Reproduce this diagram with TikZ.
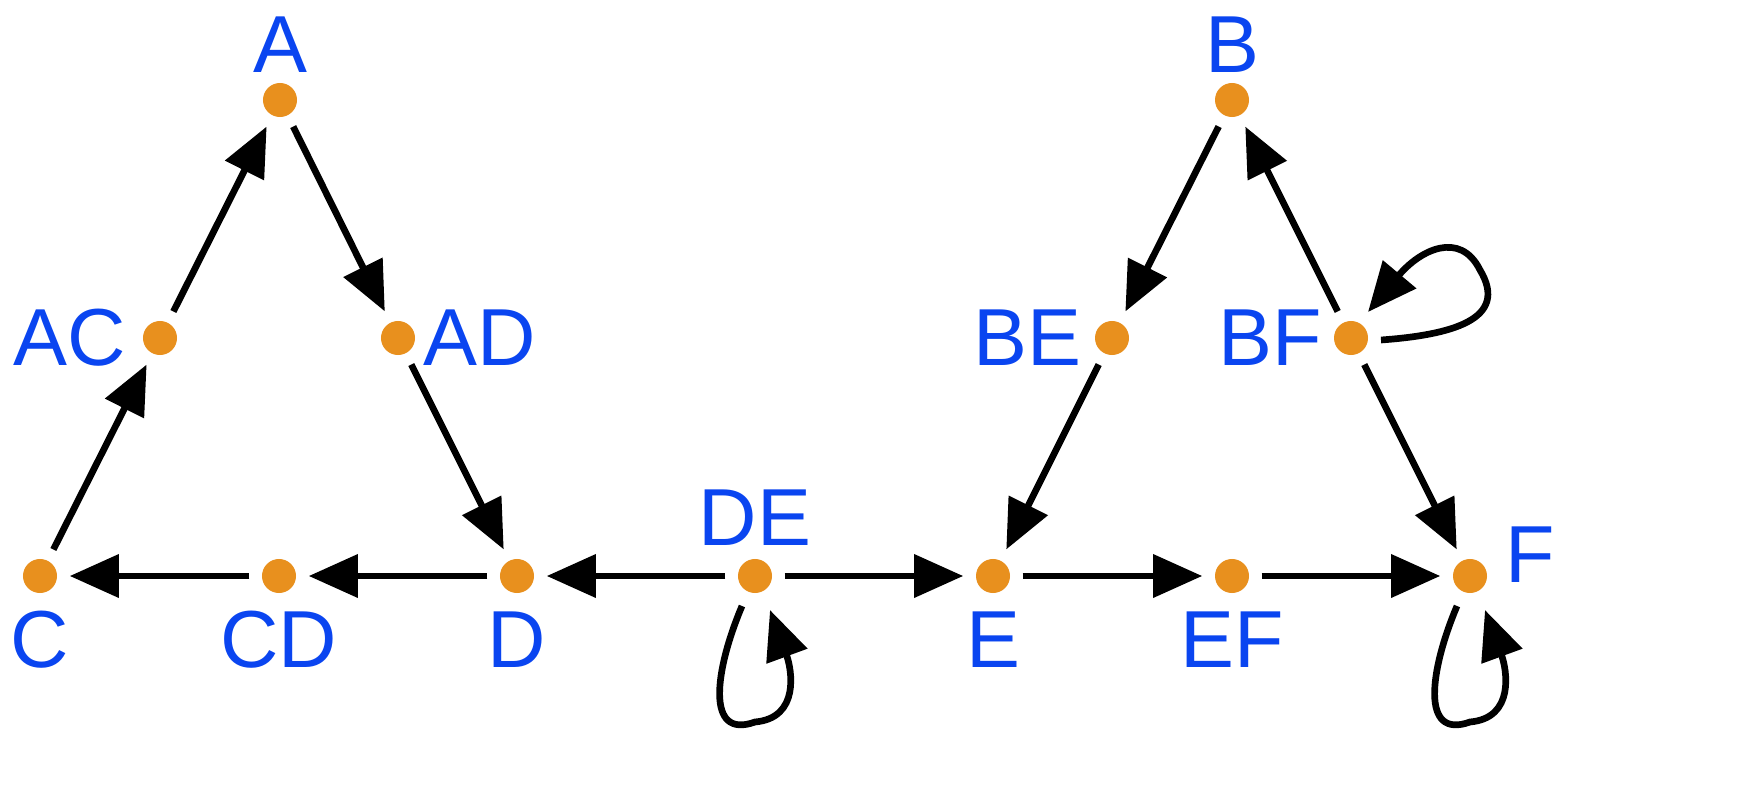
\documentclass[tikz,border=0pt]{standalone}
\usepackage{fontspec}
\setmainfont{Liberation Sans}
\usetikzlibrary{arrows.meta}
\definecolor{dotc}{HTML}{E8901E}
\definecolor{labc}{HTML}{0A45F0}
\begin{document}
\begin{tikzpicture}[x=0.01cm,y=-0.01cm,
  dot/.style={circle,fill=dotc,minimum size=0.34cm,inner sep=0pt},
  lab/.style={text=labc,font=\fontsize{23}{25}\selectfont,inner sep=0pt},
  tip/.style={-{Triangle[length=14pt,width=12pt]}},
  arr/.style={line width=1.9pt,tip,shorten >=0.12cm,shorten <=0.12cm}]
\useasboundingbox (0,0) rectangle (1754,812);
\node[dot] (A) at (280,100) {};
\node[dot] (AC) at (160,338) {};
\node[dot] (AD) at (398,338) {};
\node[dot] (C) at (40,576) {};
\node[dot] (CD) at (279,576) {};
\node[dot] (D) at (517,576) {};
\node[dot] (DE) at (755,576) {};
\node[dot] (E) at (993,576) {};
\node[dot] (EF) at (1232,576) {};
\node[dot] (F) at (1470,576) {};
\node[dot] (B) at (1232,100) {};
\node[dot] (BE) at (1112,338) {};
\node[dot] (BF) at (1351,338) {};
\node[lab] (lA) at (280,45) {A};
\node[lab] (lAC) at (70,338) {AC};
\node[lab] (lAD) at (480,338) {AD};
\node[lab] (lC) at (40,640) {C};
\node[lab] (lCD) at (279,640) {CD};
\node[lab] (lD) at (517,640) {D};
\node[lab] (lDE) at (755,518) {DE};
\node[lab] (lE) at (993,640) {E};
\node[lab] (lEF) at (1232,640) {EF};
\node[lab] (lF) at (1530,555) {F};
\node[lab] (lB) at (1232,45) {B};
\node[lab] (lBE) at (1027,338) {BE};
\node[lab] (lBF) at (1270,338) {BF};
\foreach \a/\b in {C/AC,AC/A,A/AD,AD/D,D/CD,CD/C,DE/D,DE/E,E/EF,EF/F,B/BE,BE/E,BF/B,BF/F}
  \draw[arr] (\a) -- (\b);
\draw[line width=1.9pt,tip] (742,606) .. controls (715,670) and (705,740) .. (755,722) .. controls (800,718) and (792,670) .. (770,610);
\draw[line width=1.9pt,tip] (1457,606) .. controls (1430,670) and (1420,740) .. (1470,722) .. controls (1515,718) and (1507,670) .. (1485,610);
\draw[line width=1.9pt,tip] (1381,340) .. controls (1450,335) and (1510,320) .. (1480,270) .. controls (1460,230) and (1420,250) .. (1368,312);
\end{tikzpicture}
\end{document}
